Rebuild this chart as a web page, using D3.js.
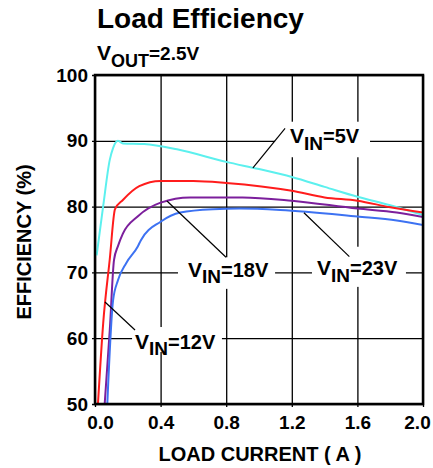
<!DOCTYPE html>
<html>
<head>
<meta charset="utf-8">
<script src="https://cdn.jsdelivr.net/npm/d3@7"></script>
<style>
  body { margin: 0; background: #fff; }
  svg text { font-family: "Liberation Sans", Arial, sans-serif; font-weight: bold; fill: #000; }
</style>
</head>
<body>
<svg id="chart" width="433" height="468"></svg>
<script>
// tick values
const currentTicks = [0, 0.4, 0.8, 1.2, 1.6, 2.0];
const efficiencyTicks = [50, 60, 70, 80, 90, 100];

// efficiency curves: [load current (A), efficiency (%)]
const vin5 = [[0.01, 72.6], [0.05, 80.1], [0.09, 87.1], [0.11, 88.9], [0.14, 90], [0.17, 89.6], [0.3, 89.5],
    [0.5, 88.7], [0.8, 86.8], [1.0, 85.7], [1.2, 84.5], [1.4, 83], [1.6, 81.5], [1.8, 80.2], [2.0, 78.7]];
const vin12 = [[0.018, 50], [0.05, 62.3], [0.09, 72], [0.122, 79.6], [0.17, 81], [0.27, 83.1], [0.4, 83.9],
    [0.6, 83.9], [0.8, 83.6], [1.2, 82.4], [1.4, 81.4], [1.6, 80.9], [1.8, 79.9], [2.0, 79.1]];
const vin18 = [[0.059, 50], [0.09, 61.2], [0.116, 71.9], [0.14, 74], [0.17, 75.9], [0.26, 78.5], [0.4, 80.6],
    [0.58, 81.4], [0.9, 81.4], [1.2, 80.9], [1.6, 79.7], [1.84, 79.1], [2.0, 78.4]];
const vin23 = [[0.075, 50], [0.11, 65.7], [0.14, 68.8], [0.19, 71.4], [0.26, 73.9], [0.28, 74.9], [0.4, 77.7],
    [0.52, 79.1], [0.72, 79.6], [0.88, 79.7], [1.13, 79.5], [1.6, 78.5], [1.84, 77.9], [2.0, 77.2]];

const seriesNames = ["5V", "12V", "18V", "23V"];
const seriesColors = ["#5cf0ee", "#ff1c1c", "#7c1f9c", "#3d72f2"];

// callout labels: text anchor, white box and leader line, all in data units
const labelNames = ["5V", "18V", "23V", "12V"];
const labelAt = [[1.189, 89.6], [0.567, 69.35], [1.354, 69.6], [0.244, 58.4]];
const labelBox = [[1.098, 1.677, 92.9, 87.5], [0.506, 1.098, 72.3, 67.5], [1.323, 1.896, 73.9, 67.8], [0.226, 0.774, 61.7, 57.9]];
const labelLeader = [[1.159, 91.9, 0.963, 85.9], [0.439, 80.85, 0.799, 72.3], [1.274, 79.07, 1.551, 72.4], [0.061, 65.5, 0.244, 61.25]];

const svg = d3.select("#chart");
const margin = {left: 95, top: 75, right: 10, bottom: 64};
const w = 433 - margin.left - margin.right;
const h = 468 - margin.top - margin.bottom;

const x = d3.scaleLinear().domain([0, 2]).range([0, w]);
const y = d3.scaleLinear().domain([50, 100]).range([h, 0]);

//  titles
svg.append("text").attr("x", 97).attr("y", 28).style("font-size", "28px").text("Load Efficiency");
const vout = svg.append("text").attr("x", 97).attr("y", 60);
vout.append("tspan").style("font-size", "21px").text("V");
vout.append("tspan").style("font-size", "18px").attr("dy", 6.5).text("OUT");
vout.append("tspan").style("font-size", "19px").attr("dy", -6.5).text("=2.5V");

const g = svg.append("g").attr("transform", `translate(${margin.left},${margin.top})`);

//  grid + axes
const yAxis = g.append("g")
    .call(d3.axisLeft(y).tickValues(efficiencyTicks).tickSize(-w).tickSizeOuter(0).tickPadding(7).tickFormat(d3.format("d")));
const xAxis = g.append("g").attr("transform", `translate(0,${h})`)
    .call(d3.axisBottom(x).tickValues(currentTicks).tickSize(-h).tickSizeOuter(0).tickPadding(12).tickFormat(d3.format(".1f")));

[yAxis, xAxis].forEach(a => {
    a.select(".domain").remove();
    a.selectAll("line").attr("stroke", "#000").attr("stroke-width", 1.3);
    a.selectAll("text").style("font-size", "19px");
});
yAxis.selectAll("line").attr("x1", -3);
xAxis.selectAll("line").attr("y1", 3);
xAxis.selectAll("text").filter(d => d === 0).attr("dx", 5);
xAxis.selectAll("text").filter(d => d === 2).attr("dx", -6);

//  white boxes behind labels (they cut the grid)
g.selectAll("rect.lbox").data(labelBox).join("rect").attr("class", "lbox")
    .attr("x", d => x(d[0])).attr("width", d => x(d[1]) - x(d[0]))
    .attr("y", d => y(d[2])).attr("height", d => y(d[3]) - y(d[2]))
    .attr("fill", "#fff");

//  curves
g.append("clipPath").attr("id", "plotClip").append("rect").attr("width", w).attr("height", h);
const line = d3.line().x(d => x(d[0])).y(d => y(d[1])).curve(d3.curveMonotoneX);
g.append("g").attr("clip-path", "url(#plotClip)")
    .selectAll("path").data([vin5, vin12, vin18, vin23]).join("path")
    .attr("d", line)
    .attr("fill", "none")
    .attr("stroke", (d, i) => seriesColors[i])
    .attr("stroke-width", 2);

//  leader lines
g.selectAll("line.leader").data(labelLeader).join("line").attr("class", "leader")
    .attr("x1", d => x(d[0])).attr("y1", d => y(d[1]))
    .attr("x2", d => x(d[2])).attr("y2", d => y(d[3]))
    .attr("stroke", "#000").attr("stroke-width", 1.2);

//  labels  V_IN=xxV
labelNames.forEach((name, i) => {
    const t = g.append("text").attr("x", x(labelAt[i][0])).attr("y", y(labelAt[i][1]));
    t.append("tspan").style("font-size", "21px").text("V");
    t.append("tspan").style("font-size", "19px").attr("dy", 6.5).text("IN");
    t.append("tspan").style("font-size", "20px").attr("dy", -6.5).text("=" + name);
});

//  frame
g.append("rect").attr("width", w).attr("height", h)
    .attr("fill", "none").attr("stroke", "#000").attr("stroke-width", 2.5);

//  axis titles
svg.append("text").attr("x", 260).attr("y", 461).attr("text-anchor", "middle")
    .style("font-size", "20px").text("LOAD CURRENT ( A )");
svg.append("text").attr("transform", "translate(31,242) rotate(-90)").attr("text-anchor", "middle")
    .style("font-size", "20px").text("EFFICIENCY (%)");
</script>
</body>
</html>
